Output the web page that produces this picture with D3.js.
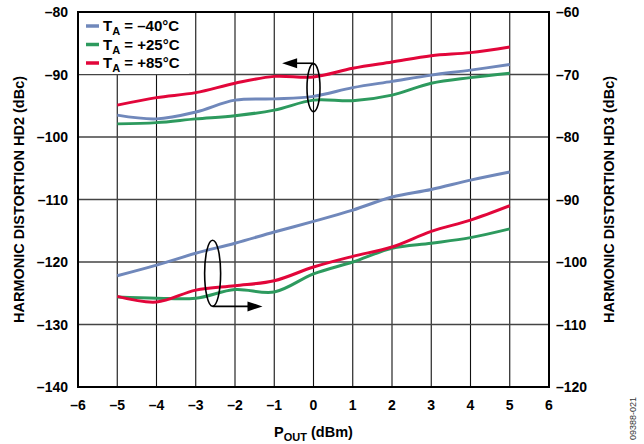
<!DOCTYPE html>
<html><head><meta charset="utf-8">
<script src="https://cdn.jsdelivr.net/npm/d3@7"></script>
<style>body{margin:0;background:#fff}svg{display:block;font-family:"Liberation Sans",Arial,sans-serif}</style>
</head><body><svg id="c" width="644" height="444"></svg>
<script>
const pout = [-5,-4,-3,-2,-1,0,1,2,3,4,5];
const hd2_m40 = [-96.5,-97.1,-96.0,-94.1,-93.9,-93.5,-92.1,-91.1,-90.1,-89.3,-88.4];
const hd2_p25 = [-97.9,-97.7,-97.1,-96.6,-95.7,-94.1,-94.2,-93.3,-91.4,-90.5,-89.8];
const hd2_p85 = [-94.9,-93.7,-92.9,-91.4,-90.3,-90.4,-89.0,-88.0,-87.0,-86.5,-85.6];
const hd3_m40 = [-102.2,-100.5,-98.6,-97.0,-95.2,-93.5,-91.7,-89.6,-88.4,-86.9,-85.6];
const hd3_p25 = [-105.6,-105.8,-105.8,-104.4,-104.8,-101.9,-100.0,-97.8,-97.0,-96.1,-94.7];
const hd3_p85 = [-105.5,-106.4,-104.5,-103.8,-103.0,-100.8,-99.1,-97.6,-95.1,-93.3,-91.0];
const xTicks = [-6,-5,-4,-3,-2,-1,0,1,2,3,4,5,6];
const yLeftTicks = [-140,-130,-120,-110,-100,-90,-80];
const yRightTicks = [-120,-110,-100,-90,-80,-70,-60];
const legendLabels = ["\u201340\u00b0C","+25\u00b0C","+85\u00b0C"];
const colors = ["#7088BB","#2D9A5E","#E2063A"];

const svg = d3.select("#c");
const L=78,R=549,T=12,B=387;
const x = d3.scaleLinear().domain([-6,6]).range([L,R]);
const yL = d3.scaleLinear().domain([-140,-80]).range([B,T]);
const yR = d3.scaleLinear().domain([-120,-60]).range([B,T]);
const fmt = d => (d<0?"\u2013"+Math.abs(d):String(d));

// grid
const g = svg.append("g");
g.selectAll(".vg").data(xTicks).join("line")
  .attr("x1",d=>x(d)).attr("x2",d=>x(d)).attr("y1",T).attr("y2",B)
  .attr("stroke","#111").attr("stroke-width",1.1);
g.selectAll(".hg").data(yLeftTicks).join("line")
  .attr("x1",L).attr("x2",R).attr("y1",d=>yL(d)).attr("y2",d=>yL(d))
  .attr("stroke","#444").attr("stroke-width",1.6);

// legend background
svg.append("rect").attr("x",L+1).attr("y",T+1).attr("width",110).attr("height",61).attr("fill","#fff");

// lines
const line = (ys, yScale) => d3.line().x((d,i)=>x(pout[i])).y(d=>yScale(d)).curve(d3.curveCatmullRom.alpha(0.5))(ys);
const series = [
  [hd2_m40,yL,0],[hd2_p25,yL,1],[hd2_p85,yL,2],
  [hd3_m40,yR,0],[hd3_p25,yR,1],[hd3_p85,yR,2]
];
series.forEach(([ys,sc,ci])=>{
  svg.append("path").attr("d",line(ys,sc)).attr("fill","none")
    .attr("stroke",colors[ci]).attr("stroke-width",3).attr("stroke-linejoin","round");
});

// frame
svg.append("rect").attr("x",L).attr("y",T).attr("width",R-L).attr("height",B-T)
  .attr("fill","none").attr("stroke","#000").attr("stroke-width",2);

// axes labels
const tf = 'font-weight:bold;font-size:14px';
const tt = 'font-weight:bold;font-size:14.5px';
svg.selectAll(".xl").data(xTicks).join("text")
  .attr("x",d=>x(d)).attr("y",410).attr("text-anchor","middle").attr("style",tf).text(fmt);
svg.selectAll(".yl").data(yLeftTicks).join("text")
  .attr("x",68).attr("y",d=>yL(d)+5).attr("text-anchor","end").attr("style",tf).text(fmt);
svg.selectAll(".yr").data(yRightTicks).join("text")
  .attr("x",556).attr("y",d=>yR(d)+5).attr("text-anchor","start").attr("style",tf).text(fmt);

// axis titles
const xt = svg.append("text").attr("x",x(0)).attr("y",437).attr("text-anchor","middle").attr("style",tt);
xt.append("tspan").text("P");
xt.append("tspan").attr("dy",4).attr("style","font-size:11px").text("OUT");
xt.append("tspan").attr("dy",-4).text(" (dBm)");
svg.append("text").attr("transform",`translate(24,${(T+B)/2}) rotate(-90)`).attr("text-anchor","middle")
  .attr("style",tt).text("HARMONIC DISTORTION HD2 (dBc)");
svg.append("text").attr("transform",`translate(614,${(T+B)/2}) rotate(-90)`).attr("text-anchor","middle")
  .attr("style",tt).text("HARMONIC DISTORTION HD3 (dBc)");
svg.append("text").attr("transform","translate(636,440) rotate(-90)").attr("text-anchor","start")
  .attr("style","font-size:9px").attr("fill","#333").text("09388-021");

// legend
legendLabels.forEach((lab,i)=>{
  const yy = 26 + i*18.5;
  svg.append("line").attr("x1",86).attr("x2",99).attr("y1",yy).attr("y2",yy)
    .attr("stroke",colors[i]).attr("stroke-width",3.5);
  const t = svg.append("text").attr("x",103).attr("y",yy+5).attr("style",'font-weight:bold;font-size:15px');
  t.append("tspan").text("T");
  t.append("tspan").attr("dy",4).attr("style","font-size:11px").text("A");
  t.append("tspan").attr("dy",-4).text(" = "+lab);
});

// annotations
function ellipseArrow(cx, cy, rx, ry, ay, tipX){
  svg.append("ellipse").attr("cx",cx).attr("cy",cy).attr("rx",rx).attr("ry",ry)
    .attr("fill","none").attr("stroke","#000").attr("stroke-width",1.6);
  const dir = Math.sign(tipX-cx);
  svg.append("line").attr("x1",cx).attr("x2",tipX-dir*12).attr("y1",ay).attr("y2",ay)
    .attr("stroke","#000").attr("stroke-width",1.6);
  svg.append("path").attr("d",`M${tipX},${ay} L${tipX-dir*15},${ay-5} L${tipX-dir*15},${ay+5} Z`).attr("fill","#000");
}
ellipseArrow(x(0), yL(-92.1), 6.5, 24, yL(-88.2), x(-0.8));
ellipseArrow(x(-2.57), yL(-121.8), 8, 33, yL(-127.1), x(-1.3));
</script></body></html>
